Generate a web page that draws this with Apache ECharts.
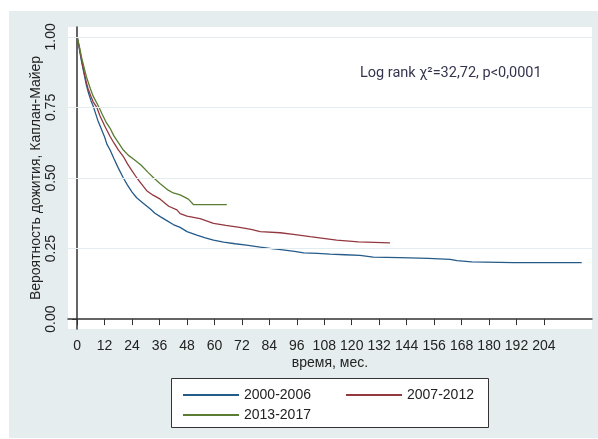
<!DOCTYPE html>
<html>
<head>
<meta charset="utf-8">
<script src="https://cdn.jsdelivr.net/npm/echarts@6/dist/echarts.min.js"></script>
<style>
  html, body { margin: 0; padding: 0; background: #fff; }
  #chart { width: 598px; height: 439px; }
</style>
</head>
<body>
<div id="chart"></div>
<script>
// периоды (легенда)
const periods = ['2000-2006', '2007-2012', '2013-2017']

// время, мес. / вероятность дожития (кривые Каплана-Майера)
const t2000 = [0, 1, 2, 3, 4, 5, 6, 7, 8, 9, 10, 11, 12, 13, 14.4, 16, 18, 20.2, 22, 24, 26, 29, 32, 34, 36.3, 39, 42, 45, 48, 52.3, 56, 59.6, 64, 69, 74, 80, 85, 89, 95, 99, 105, 110.5, 117, 123.6, 129.4, 141, 153.5, 163, 166, 172.4, 190.6, 220.5]
const s2000 = [1, 0.955, 0.91, 0.87, 0.83, 0.80, 0.775, 0.755, 0.73, 0.705, 0.685, 0.665, 0.645, 0.62, 0.599, 0.57, 0.535, 0.50, 0.475, 0.45, 0.43, 0.41, 0.39, 0.375, 0.363, 0.35, 0.335, 0.325, 0.31, 0.298, 0.288, 0.28, 0.273, 0.267, 0.262, 0.255, 0.25, 0.246, 0.24, 0.235, 0.233, 0.23, 0.228, 0.226, 0.22, 0.218, 0.215, 0.212, 0.207, 0.203, 0.2, 0.2]

const t2007 = [0, 1, 2, 3, 4, 4.7, 6, 7, 8.6, 10, 12, 14.4, 16, 18, 20.2, 22, 24, 26.1, 28, 30.4, 33, 36.3, 40, 43.6, 45, 48, 53.7, 59.6, 65, 71, 76, 80, 88.7, 94.5, 101.8, 107.6, 113.4, 122.9, 123.5, 136.7]
const s2007 = [1, 0.96, 0.915, 0.875, 0.84, 0.818, 0.79, 0.77, 0.75, 0.72, 0.685, 0.647, 0.625, 0.60, 0.576, 0.55, 0.525, 0.50, 0.48, 0.455, 0.44, 0.425, 0.40, 0.387, 0.374, 0.365, 0.356, 0.339, 0.332, 0.325, 0.318, 0.31, 0.306, 0.30, 0.292, 0.286, 0.28, 0.274, 0.27, 0.27]

const t2013 = [0, 1, 2, 3.1, 4, 5.7, 7, 9.6, 11, 12.5, 14.4, 16, 18, 20.2, 22.3, 25, 28, 31, 33.5, 36.3, 39.8, 42, 45, 48.6, 50.8, 65.4]
const s2013 = [1, 0.965, 0.925, 0.889, 0.86, 0.818, 0.79, 0.75, 0.725, 0.70, 0.676, 0.65, 0.625, 0.599, 0.581, 0.565, 0.545, 0.52, 0.50, 0.48, 0.457, 0.447, 0.44, 0.425, 0.406, 0.406]

// подписи осей
const xTicks = [0, 12, 24, 36, 48, 60, 72, 84, 96, 108, 120, 132, 144, 156, 168, 180, 192, 204]
const yTicks = [0, 0.25, 0.5, 0.75, 1]
const yGrid = [0.25, 0.5, 0.75, 1]

const colors = ['#255b89', '#94383f', '#5a7d33']
const font = 'Liberation Sans, Arial, sans-serif'

const zip = (ts, ss) => ts.map((t, i) => [t, ss[i]])

const chart = echarts.init(document.getElementById('chart'))

chart.setOption({
  animation: false,
  textStyle: { fontFamily: font },
  graphic: [
    {
      type: 'rect', z: -100, silent: true,
      shape: { x: 9, y: 11, width: 589, height: 427 },
      style: { fill: '#e5edef' }
    },
    {
      type: 'rect', z: 3, silent: true,
      shape: { x: 171.5, y: 378.5, width: 317, height: 49 },
      style: { fill: '#fff', stroke: '#333', lineWidth: 1 }
    },
    {
      type: 'text', z: 5, left: 360, top: 66,
      style: {
        text: 'Log rank χ²=32,72, p<0,0001',
        font: '14.5px Roboto, sans-serif',
        fill: '#34344e'
      }
    }
  ],
  grid: {
    left: 68, top: 27, right: 6, bottom: 110,
    show: true, backgroundColor: '#fff', borderWidth: 0
  },
  legend: {
    data: periods,
    left: 178, top: 383, width: 330,
    orient: 'horizontal',
    icon: 'rect',
    itemWidth: 56, itemHeight: 2, itemGap: 6,
    textStyle: { fontSize: 14, color: '#222', width: 96, lineHeight: 14, fontFamily: font }
  },
  xAxis: {
    type: 'value',
    min: -4, max: 225,
    name: 'время, мес.',
    nameLocation: 'middle',
    nameGap: 27,
    nameMoveOverlap: false,
    nameTextStyle: { fontSize: 14, color: '#222' },
    axisLine: { show: true, lineStyle: { color: '#333', width: 1.5 } },
    axisTick: { show: true, customValues: xTicks, length: 6, lineStyle: { color: '#333' } },
    axisLabel: { customValues: xTicks, fontSize: 14, color: '#222', margin: 10 },
    splitLine: { show: false }
  },
  yAxis: {
    type: 'value',
    min: -0.035, max: 1.035,
    name: 'Вероятность дожития, Каплан-Майер',
    nameLocation: 'middle',
    nameGap: 25,
    nameMoveOverlap: false,
    nameRotate: 90,
    nameTextStyle: { fontSize: 14, color: '#222' },
    axisLine: { show: true, lineStyle: { color: '#333', width: 1.5 } },
    axisTick: { show: true, customValues: yTicks, length: 5, lineStyle: { color: '#333' } },
    axisLabel: {
      customValues: yTicks, fontSize: 14, color: '#222', margin: 10, rotate: 90,
      formatter: v => v.toFixed(2)
    },
    splitLine: { show: false }
  },
  series: [
    {
      name: periods[0], type: 'line', symbol: 'none',
      data: zip(t2000, s2000),
      lineStyle: { color: colors[0], width: 1.3 }, itemStyle: { color: colors[0] },
      markLine: {
        silent: true, symbol: 'none', label: { show: false },
        lineStyle: { color: '#e3ecee', width: 1, type: 'solid' },
        data: yGrid.map(v => ({ yAxis: v }))
      },
      z: 2
    },
    {
      name: periods[1], type: 'line', symbol: 'none',
      data: zip(t2007, s2007),
      lineStyle: { color: colors[1], width: 1.3 }, itemStyle: { color: colors[1] },
      z: 2
    },
    {
      name: periods[2], type: 'line', symbol: 'none',
      data: zip(t2013, s2013),
      lineStyle: { color: colors[2], width: 1.3 }, itemStyle: { color: colors[2] },
      z: 2
    }
  ]
})
</script>
</body>
</html>
